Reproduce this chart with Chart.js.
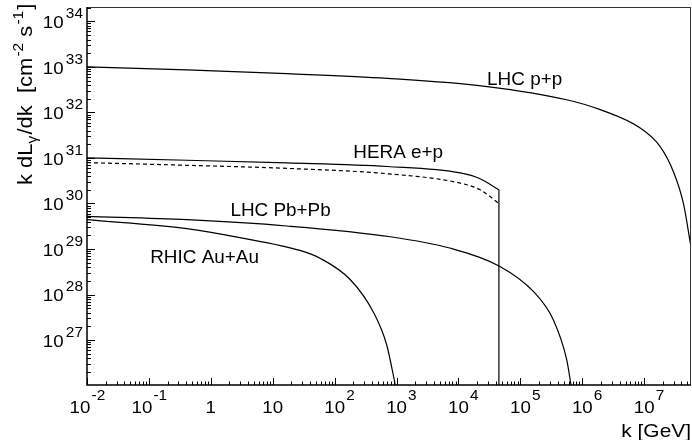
<!DOCTYPE html>
<html>
<head>
<meta charset="utf-8">
<script src="https://cdn.jsdelivr.net/npm/chart.js@4.4.1/dist/chart.umd.min.js"></script>
<style>
	html, body { margin: 0; padding: 0; background: #fff; }
	canvas { display: block; }
</style>
</head>
<body>
<canvas id="lumi" width="692" height="440"></canvas>
<script>
// photon luminosity k dL/dk (k in GeV, L in cm^-2 s^-1)
const ppK = [1e-2, 0.41, 17, 708, 2.9e4, 5.6e5, 1.95e6, 8.5e6, 1.8e7, 3.0e7, 4.3e7, 5.7e7];
const ppL = [1.0e33, 8.6e32, 7.1e32, 5.6e32, 3.7e32, 1.9e32, 1.15e32, 4.6e31, 1.8e31, 4.8e30, 1.0e30, 1.1e29];

const heraK = [1e-2, 0.41, 17, 708, 1.07e4, 2.24e4, 4.5e4];
const heraL = [1.0e31, 8.9e30, 7.8e30, 6.5e30, 4.7e30, 3.5e30, 2.0e30];
const heraDashL = [7.9e30, 6.9e30, 5.9e30, 4.5e30, 2.8e30, 2.0e30, 1.0e30];
const heraCutK = [4.5e4, 4.5e4];
const heraCutL = [2.0e30, 1e25];

const pbK = [1e-2, 0.41, 17, 794, 7.2e3, 4.6e4, 1.62e5, 3.4e5, 5.6e5, 6.6e5];
const pbL = [5.2e29, 4.4e29, 3.2e29, 1.86e29, 1.05e29, 4.2e28, 1.17e28, 2.8e27, 3.7e26, 1.0e26];

const auK = [1e-2, 0.41, 2.95, 27.5, 59, 178, 427, 692, 960];
const auL = [4.4e29, 2.8e29, 1.78e29, 9.3e28, 6.2e28, 2.14e28, 4.0e27, 7.9e26, 1.0e26];

// decade labels on the axes (exponents of 10)
const xTickExps = [-2, -1, 0, 1, 2, 3, 4, 5, 6, 7];
const yTickExps = [27, 28, 29, 30, 31, 32, 33, 34];

// curve names, anchored at (k, L) of the text's left baseline
const curveNames = ['LHC p+p', 'HERA e+p', 'LHC Pb+Pb', 'RHIC Au+Au'];
const nameK = [2.9e4, 2.0e2, 2.07, 0.105];
const nameL = [4.0e32, 1.0e31, 5.2e29, 4.95e28];

const FONT = '"Liberation Sans", Arial, Helvetica, sans-serif';

function pts(ks, ls) {
	return ks.map((k, i) => ({x: k, y: ls[i]}));
}

function richWidth(ctx, parts, stretch) {
	let w = 0;
	parts.forEach(p => {
		ctx.font = p[1] + 'px ' + FONT;
		w += ctx.measureText(p[0]).width + (p[3] || 0);
	});
	return w * stretch;
}

// parts: [text, size, dy, gapBefore]
function drawRich(ctx, parts, x, y, stretch, angle) {
	ctx.save();
	ctx.translate(x, y);
	if (angle) ctx.rotate(angle);
	ctx.scale(stretch, 1);
	ctx.fillStyle = '#000';
	ctx.textBaseline = 'alphabetic';
	ctx.textAlign = 'left';
	let cx = 0;
	parts.forEach(p => {
		cx += p[3] || 0;
		ctx.font = p[1] + 'px ' + FONT;
		ctx.fillText(p[0], cx, p[2]);
		cx += ctx.measureText(p[0]).width;
	});
	ctx.restore();
}

const rootFrame = {
	id: 'rootFrame',
	afterDraw(chart) {
		const ctx = chart.ctx;
		const a = chart.chartArea;
		const xs = chart.scales.x;
		const ys = chart.scales.y;

		ctx.save();
		// box
		ctx.strokeStyle = '#333';
		ctx.lineWidth = 1;
		ctx.beginPath();
		ctx.moveTo(a.left, a.top + 0.5);
		ctx.lineTo(a.right, a.top + 0.5);
		ctx.moveTo(a.right - 0.5, a.top);
		ctx.lineTo(a.right - 0.5, a.bottom);
		ctx.stroke();
		ctx.strokeStyle = '#000';
		ctx.lineWidth = 1.5;
		ctx.beginPath();
		ctx.moveTo(a.left, a.top);
		ctx.lineTo(a.left, a.bottom);
		ctx.lineTo(a.right, a.bottom);
		ctx.stroke();

		// inward ticks, 1..9 per decade
		ctx.lineWidth = 1;
		ctx.beginPath();
		for (let e = Math.floor(Math.log10(xs.min)); e <= Math.ceil(Math.log10(xs.max)); e++) {
			for (let m = 1; m <= 9; m++) {
				const v = m * Math.pow(10, e);
				if (v < xs.min * 0.999 || v > xs.max * 1.001) continue;
				const px = Math.round(xs.getPixelForValue(v)) + 0.5;
				const len = m === 1 ? 7 : 3.5;
				ctx.moveTo(px, a.bottom);
				ctx.lineTo(px, a.bottom - len);
			}
		}
		for (let e = Math.floor(Math.log10(ys.min)); e <= Math.ceil(Math.log10(ys.max)); e++) {
			for (let m = 1; m <= 9; m++) {
				const v = m * Math.pow(10, e);
				if (v < ys.min * 0.999 || v > ys.max * 1.001) continue;
				const py = Math.round(ys.getPixelForValue(v)) + 0.5;
				const len = m === 1 ? 8 : 4;
				ctx.moveTo(a.left, py);
				ctx.lineTo(a.left + len, py);
			}
		}
		ctx.stroke();
		ctx.restore();

		const st = 1.1;
		// x tick labels
		xTickExps.forEach(e => {
			const px = xs.getPixelForValue(Math.pow(10, e));
			if (e === 0 || e === 1) {
				const parts = [[e === 0 ? '1' : '10', 17, 0]];
				drawRich(ctx, parts, px - richWidth(ctx, parts, st) / 2, 413, st);
			} else {
				const ten = [['10', 17, 0]];
				const shift = e < 0 ? 7 : 0;
				const left = px - richWidth(ctx, ten, st) / 2 - shift;
				drawRich(ctx, [['10', 17, 0], [String(e), 14, -13, 1]], left, 413, st);
			}
		});
		// y tick labels, right aligned
		yTickExps.forEach(e => {
			const py = ys.getPixelForValue(Math.pow(10, e));
			const parts = [['10', 17, 0], [String(e), 14, -10, 2]];
			drawRich(ctx, parts, 83 - richWidth(ctx, parts, st), py + 6.8, st);
		});

		// axis titles
		const xt = [['k [GeV]', 19, 0]];
		drawRich(ctx, xt, a.right - richWidth(ctx, xt, st), 437, st);
		const yt = [
			['k dL', 20, 0], ['\u03b3', 14, 5], ['/dk  [cm', 20, 0, 1],
			['-2', 14, -9, 1], [' s', 20, 0], ['-1', 14, -9, 1], [']', 20, 0, 1]
		];
		drawRich(ctx, yt, 32, 185, st, -Math.PI / 2);

		// curve names
		curveNames.forEach((name, i) => {
			drawRich(ctx, [[name, 18, 0]], xs.getPixelForValue(nameK[i]), ys.getPixelForValue(nameL[i]), 1.05);
		});
	}
};

class LumiChart {
	constructor(args) {
		this.el = document.getElementById(args.id).getContext('2d');
		this.init();
	}
	init() {
		this.render();
		return this;
	}
	line(ks, ls, dash) {
		return {
			data: pts(ks, ls),
			showLine: true,
			borderColor: '#000',
			borderWidth: 1.2,
			borderDash: dash || [],
			pointRadius: 0,
			cubicInterpolationMode: 'monotone'
		};
	}
	render() {
		let data = {
			datasets: [
				this.line(ppK, ppL),
				this.line(heraK, heraL),
				this.line(heraK, heraDashL, [4, 3]),
				this.line(heraCutK, heraCutL),
				this.line(pbK, pbL),
				this.line(auK, auL)
			]
		};
		let options = {
			responsive: false,
			animation: false,
			devicePixelRatio: 1,
			layout: { padding: { top: 7, right: 1, left: 0, bottom: 0 } },
			plugins: { legend: { display: false }, tooltip: { enabled: false } },
			scales: {
				x: {
					type: 'logarithmic',
					min: 1e-2,
					max: 5.7e7,
					grid: { display: false },
					border: { display: false },
					ticks: { display: false },
					afterFit: s => { s.height = 55; }
				},
				y: {
					type: 'logarithmic',
					min: 1.03e26,
					max: 2.07e34,
					grid: { display: false },
					border: { display: false },
					ticks: { display: false },
					afterFit: s => { s.width = 87; }
				}
			}
		};
		this.chart = new Chart(this.el, {
			type: 'scatter',
			data: data,
			options: options,
			plugins: [rootFrame]
		});
		return this;
	}
}

new LumiChart({ id: 'lumi' });
</script>
</body>
</html>
